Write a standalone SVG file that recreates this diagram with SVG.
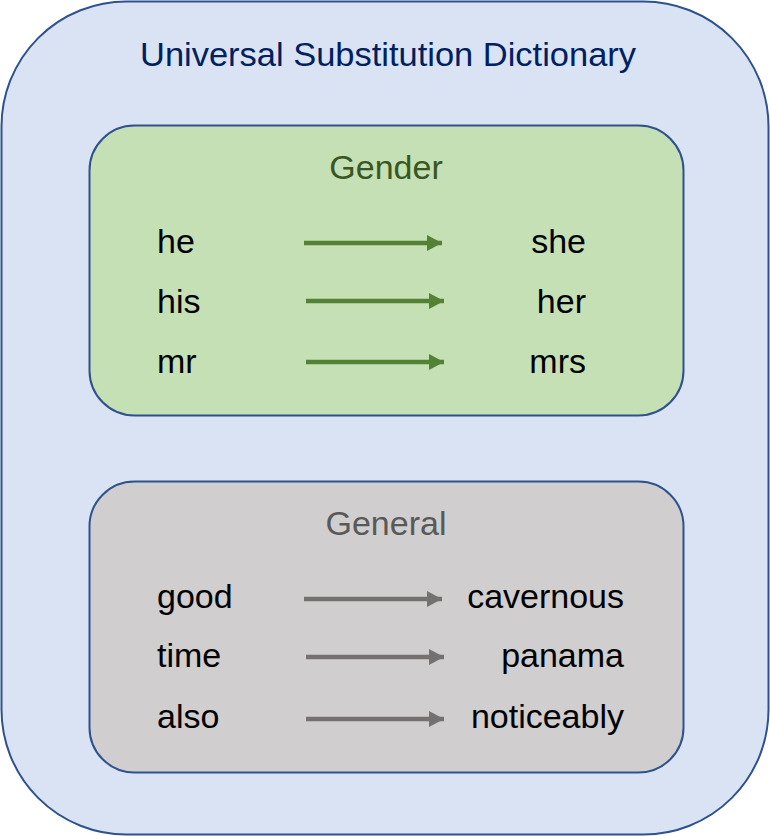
<svg xmlns="http://www.w3.org/2000/svg" width="770" height="836" viewBox="0 0 770 836">
<defs>
<style>
.box{stroke:#2F528F;stroke-width:2}
.t{font-family:"Liberation Sans",Arial,sans-serif;font-size:34px}
.w{fill:#000}
.r{text-anchor:end}
.ga{stroke:#548235;stroke-width:4.5}
.ya{stroke:#767171;stroke-width:4.5}
</style>
<marker id="hg" markerUnits="userSpaceOnUse" markerWidth="17" markerHeight="17" refX="15" refY="8" orient="auto"><path d="M0,0 L15,8 L0,16 Z" fill="#548235"/></marker>
<marker id="hy" markerUnits="userSpaceOnUse" markerWidth="17" markerHeight="17" refX="15" refY="8" orient="auto"><path d="M0,0 L15,8 L0,16 Z" fill="#767171"/></marker>
</defs>
<g id="dictionary">
<rect class="box" x="1.5" y="1.5" width="767" height="833" rx="125" ry="125" fill="#DAE3F3"/>
<text class="t" x="388" y="66" text-anchor="middle" fill="#002060" font-size="35" textLength="496" lengthAdjust="spacingAndGlyphs">Universal Substitution Dictionary</text>
</g>
<g id="gender">
<rect class="box" x="89.5" y="125.5" width="594" height="290" rx="45" ry="45" fill="#C5E0B4"/>
<text class="t" x="386" y="179" text-anchor="middle" fill="#385723">Gender</text>
<text class="t w" x="157" y="253">he</text>
<text class="t w" x="157" y="313">his</text>
<text class="t w" x="157" y="373">mr</text>
<text class="t w r" x="586" y="253">she</text>
<text class="t w r" x="586" y="313">her</text>
<text class="t w r" x="586" y="373">mrs</text>
</g>
<g id="general">
<rect class="box" x="89.5" y="481.5" width="594" height="291" rx="45" ry="45" fill="#D0CECE"/>
<text class="t" x="386" y="535" text-anchor="middle" fill="#595959">General</text>
<text class="t w" x="157" y="608">good</text>
<text class="t w" x="157" y="667">time</text>
<text class="t w" x="157" y="728">also</text>
<text class="t w r" x="624" y="608">cavernous</text>
<text class="t w r" x="624" y="667">panama</text>
<text class="t w r" x="624" y="728">noticeably</text>
</g>
<g id="connectors">
<line class="ga" x1="304" y1="243" x2="442" y2="243" marker-end="url(#hg)"/>
<line class="ga" x1="306" y1="301" x2="444" y2="301" marker-end="url(#hg)"/>
<line class="ga" x1="306" y1="362" x2="444" y2="362" marker-end="url(#hg)"/>
<line class="ya" x1="304" y1="599" x2="442" y2="599" marker-end="url(#hy)"/>
<line class="ya" x1="306" y1="657" x2="444" y2="657" marker-end="url(#hy)"/>
<line class="ya" x1="306" y1="719" x2="444" y2="719" marker-end="url(#hy)"/>
</g>
</svg>
